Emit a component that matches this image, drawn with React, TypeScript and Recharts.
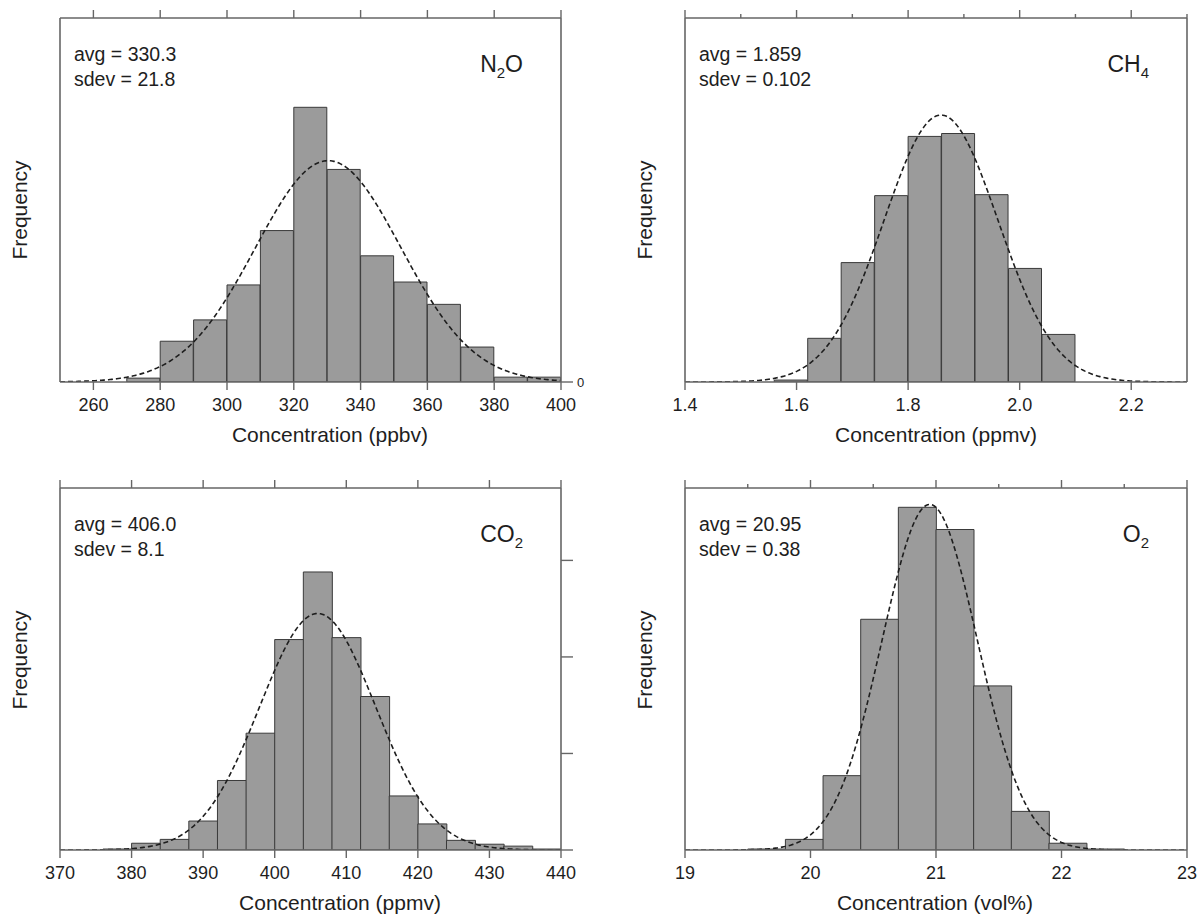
import React from 'react';
import { ComposedChart, Bar, Line, XAxis, YAxis } from 'recharts';

const FONT = '"Liberation Sans", Arial, Helvetica, sans-serif';
const AXIS_COLOR = '#666';
const TEXT_COLOR = '#1e1e1e';

// ---- N2O (ppbv), 10 ppbv bins ----
const n2oBinCenters = [275, 285, 295, 305, 315, 325, 335, 345, 355, 365, 375, 385, 395];
const n2oCounts = [4, 42, 64, 100, 156, 283, 219, 130, 103, 80, 36, 5, 5];
const n2oTicks = [260, 280, 300, 320, 340, 360, 380, 400];
const n2oTopTicks = [260, 280, 300, 320, 340, 360, 380, 400];
const n2oFit = { avg: 330.3, sdev: 21.8, peak: 228 };

// ---- CH4 (ppmv), 0.06 ppmv bins ----
const ch4BinCenters = [1.59, 1.65, 1.71, 1.77, 1.83, 1.89, 1.95, 2.01, 2.07];
const ch4Counts = [2, 45, 123, 192, 253, 256, 193, 117, 49];
const ch4Ticks = [1.4, 1.6, 1.8, 2.0, 2.2];
const ch4TopTicks = [1.4, 1.5, 1.6, 1.7, 1.8, 1.9, 2.0, 2.1, 2.2, 2.3];
const ch4Fit = { avg: 1.859, sdev: 0.102, peak: 275 };

// ---- CO2 (ppmv), 4 ppmv bins ----
const co2BinCenters = [378, 382, 386, 390, 394, 398, 402, 406, 410, 414, 418, 422, 426, 430, 434, 438];
const co2Counts = [1, 7, 11, 30, 72, 121, 218, 288, 220, 159, 56, 27, 10, 6, 4, 1];
const co2Ticks = [370, 380, 390, 400, 410, 420, 430, 440];
const co2TopTicks = [370, 380, 390, 400, 410, 420, 430, 440];
const co2RightTicks = [0, 100, 200, 300];
const co2Fit = { avg: 406.0, sdev: 8.1, peak: 245 };

// ---- O2 (vol%), 0.3 vol% bins ----
const o2BinCenters = [19.65, 19.95, 20.25, 20.55, 20.85, 21.15, 21.45, 21.75, 22.05, 22.35];
const o2Counts = [1, 11, 77, 239, 355, 332, 170, 40, 7, 1];
const o2Ticks = [19, 20, 21, 22, 23];
const o2TopTicks = [19, 19.5, 20, 20.5, 21, 21.5, 22, 22.5, 23];
const o2Fit = { avg: 20.95, sdev: 0.38, peak: 358 };

const FREQ_MAX = 375;

// Gaussian fit drawn from the stated avg / sdev
function normalFit(fit: { avg: number; sdev: number; peak: number }, min: number, max: number) {
  const pts: { x: number; y: number }[] = [];
  const steps = 300;
  for (let i = 0; i <= steps; i++) {
    const x = min + ((max - min) * i) / steps;
    pts.push({ x, y: fit.peak * Math.exp(-((x - fit.avg) ** 2) / (2 * fit.sdev * fit.sdev)) });
  }
  return pts;
}

type Panel = {
  L: number; T: number; R: number; B: number;
  bins: number[]; counts: number[];
  domain: [number, number];
  ticks: number[]; topTicks: number[];
  fmt: (v: number) => string;
  fit: { avg: number; sdev: number; peak: number };
  rightTicks: number[];
  rightLabels: boolean;
  avgText: string; sdevText: string;
  gas: [string, string, string];
  title: string; titleX: number; freqY: number;
};

const panels: Panel[] = [
  {
    L: 60, T: 18, R: 561, B: 382,
    bins: n2oBinCenters, counts: n2oCounts, domain: [250, 400],
    ticks: n2oTicks, topTicks: n2oTopTicks, fmt: (v) => String(v),
    fit: n2oFit, rightTicks: [0], rightLabels: true,
    avgText: 'avg = 330.3', sdevText: 'sdev = 21.8', gas: ['N', '2', 'O'],
    title: 'Concentration (ppbv)', titleX: 330, freqY: 210,
  },
  {
    L: 685, T: 18, R: 1187, B: 382,
    bins: ch4BinCenters, counts: ch4Counts, domain: [1.4, 2.3],
    ticks: ch4Ticks, topTicks: ch4TopTicks, fmt: (v) => v.toFixed(1),
    fit: ch4Fit, rightTicks: [], rightLabels: false,
    avgText: 'avg = 1.859', sdevText: 'sdev = 0.102', gas: ['CH', '4', ''],
    title: 'Concentration (ppmv)', titleX: 936, freqY: 210,
  },
  {
    L: 60, T: 488, R: 561, B: 850,
    bins: co2BinCenters, counts: co2Counts, domain: [370, 440],
    ticks: co2Ticks, topTicks: co2TopTicks, fmt: (v) => String(v),
    fit: co2Fit, rightTicks: co2RightTicks, rightLabels: false,
    avgText: 'avg = 406.0', sdevText: 'sdev = 8.1', gas: ['CO', '2', ''],
    title: 'Concentration (ppmv)', titleX: 340, freqY: 660,
  },
  {
    L: 685, T: 488, R: 1187, B: 850,
    bins: o2BinCenters, counts: o2Counts, domain: [19, 23],
    ticks: o2Ticks, topTicks: o2TopTicks, fmt: (v) => String(v),
    fit: o2Fit, rightTicks: [], rightLabels: false,
    avgText: 'avg = 20.95', sdevText: 'sdev = 0.38', gas: ['O', '2', ''],
    title: 'Concentration (vol%)', titleX: 935, freqY: 660,
  },
];

function TopTick(props: any) {
  const { x, y, payload, majors } = props;
  const major = majors.some((m: number) => Math.abs(m - payload.value) < 1e-6);
  const len = major ? 8 : 4;
  return <line x1={x} x2={x} y1={y} y2={y - len} stroke={AXIS_COLOR} strokeWidth={1.4} />;
}

function HistogramPanel({ p }: { p: Panel }) {
  const contLeft = p.L - 60;
  const contTop = p.T - 18;
  const contRight = Math.min(p.R + 40, 1200);
  const contW = contRight - contLeft;
  const contH = p.B + 62 - contTop;
  const margin = {
    left: 50,
    top: 8,
    right: contRight - p.R - 10,
    bottom: contH - (p.B - contTop) - 30,
  };
  const data = p.bins.map((x, i) => ({ x, count: p.counts[i] }));
  const fitData = normalFit(p.fit, p.domain[0], p.domain[1]);
  const axisLine = { stroke: AXIS_COLOR, strokeWidth: 1.6 };
  const tickLine = { stroke: AXIS_COLOR, strokeWidth: 1.4 };
  const hasRightTicks = p.rightTicks.length > 0;

  return (
    <div style={{ position: 'absolute', left: contLeft, top: contTop, width: contW, height: contH }}>
      <ComposedChart width={contW} height={contH} data={data} margin={margin} barCategoryGap={0} barGap={0}>
        {/* bottom axis: bin scale with labelled ticks */}
        <XAxis
          xAxisId="bins" dataKey="x" type="number" domain={p.domain} allowDataOverflow
          ticks={p.ticks} interval={0} tickFormatter={p.fmt}
          height={30} tickSize={8} tickMargin={8}
          axisLine={axisLine} tickLine={tickLine}
          tick={{ fill: TEXT_COLOR, fontSize: 18, fontFamily: FONT }}
        />
        {/* top axis: unlabelled tick marks, carries the fitted curve */}
        <XAxis
          xAxisId="top" dataKey="x" orientation="top" type="number" domain={p.domain} allowDataOverflow
          ticks={p.topTicks} interval={0} height={10} tickSize={0} tickMargin={0}
          axisLine={axisLine} tickLine={false}
          tick={(props: any) => <TopTick {...props} majors={p.ticks} />}
        />
        <YAxis
          yAxisId="left" type="number" domain={[0, FREQ_MAX]} allowDataOverflow width={10}
          tick={false} tickLine={false} axisLine={axisLine}
        />
        <YAxis
          yAxisId="freq" orientation="right" type="number" domain={[0, FREQ_MAX]} allowDataOverflow width={10}
          ticks={hasRightTicks ? p.rightTicks : undefined} interval={0}
          tickSize={12} tickMargin={4}
          tickFormatter={p.rightLabels ? (v: number) => String(v) : () => ''}
          tick={hasRightTicks ? { fill: TEXT_COLOR, fontSize: 13, fontFamily: FONT } : false}
          tickLine={hasRightTicks ? tickLine : false}
          axisLine={axisLine}
        />
        <Bar
          xAxisId="bins" yAxisId="freq" dataKey="count"
          fill="#9b9b9b" stroke="#3a3a3a" strokeWidth={1}
          isAnimationActive={false}
        />
        <Line
          xAxisId="top" yAxisId="freq" data={fitData} dataKey="y" type="linear"
          stroke="#1e1e1e" strokeWidth={1.6} strokeDasharray="5 3"
          dot={false} activeDot={false} isAnimationActive={false}
        />
      </ComposedChart>
    </div>
  );
}

function PanelText({ p }: { p: Panel }) {
  const freqX = p.L - 33;
  return (
    <g fill={TEXT_COLOR} fontFamily={FONT}>
      <text x={p.L + 14} y={p.T + 43} fontSize={19.5}>{p.avgText}</text>
      <text x={p.L + 14} y={p.T + 68} fontSize={19.5}>{p.sdevText}</text>
      <text x={p.R - 38} y={p.T + 54} fontSize={23} textAnchor="end">
        {p.gas[0]}
        <tspan fontSize={15} dy={6}>{p.gas[1]}</tspan>
        {p.gas[2] ? <tspan fontSize={23} dy={-6}>{p.gas[2]}</tspan> : null}
      </text>
      <text x={p.titleX} y={p.B + 60} fontSize={21} textAnchor="middle">{p.title}</text>
      <text
        x={freqX} y={p.freqY} fontSize={21} textAnchor="middle"
        transform={`rotate(-90 ${freqX} ${p.freqY})`}
      >
        Frequency
      </text>
    </g>
  );
}

export default function App() {
  return (
    <div style={{ position: 'absolute', left: 0, top: 0, width: 1200, height: 919, background: '#fff', overflow: 'hidden' }}>
      {panels.map((p, i) => (
        <HistogramPanel key={i} p={p} />
      ))}
      <svg
        width={1200} height={919}
        style={{ position: 'absolute', left: 0, top: 0, pointerEvents: 'none' }}
      >
        {panels.map((p, i) => (
          <PanelText key={i} p={p} />
        ))}
      </svg>
    </div>
  );
}
